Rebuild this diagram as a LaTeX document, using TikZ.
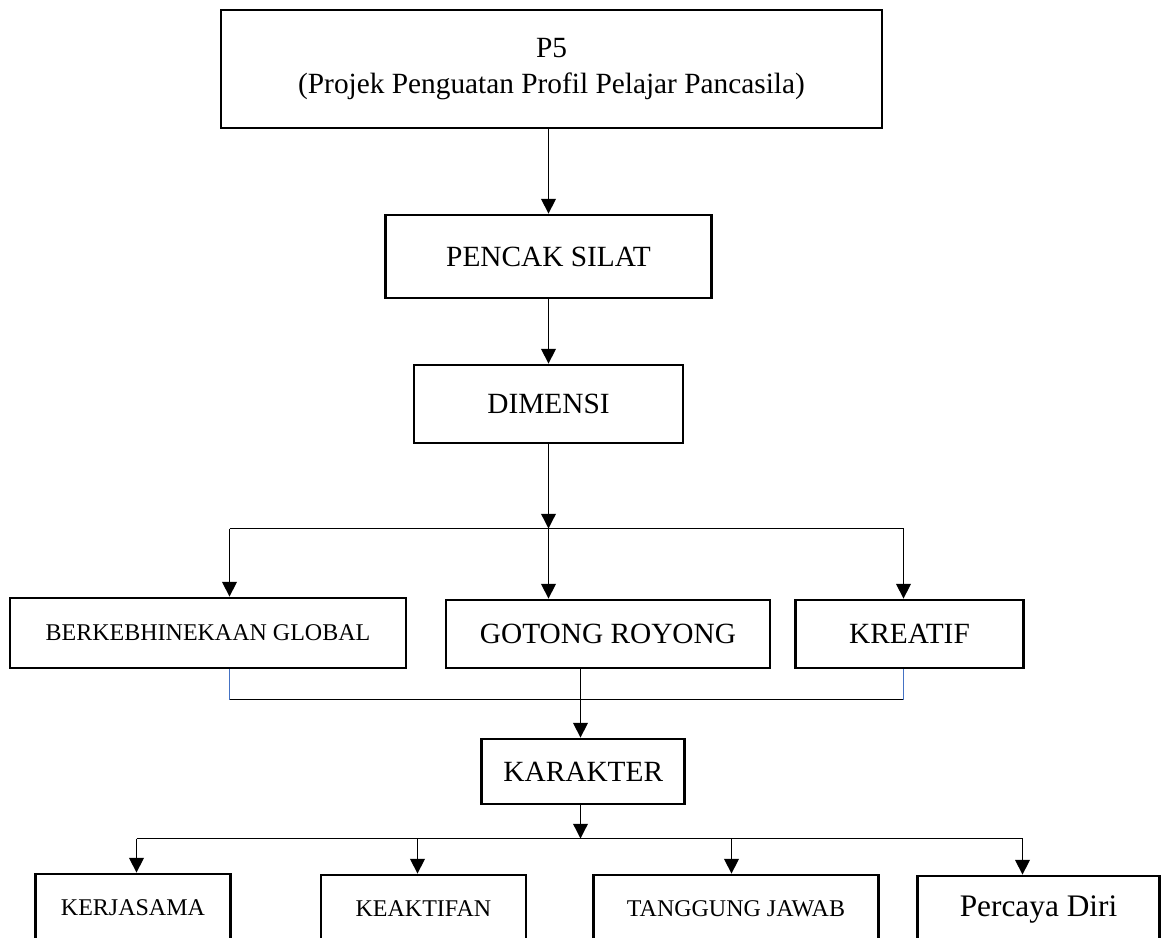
\documentclass[tikz,border=0pt]{standalone}
\usepackage{fontspec}
\setmainfont{Liberation Serif}
\usetikzlibrary{arrows.meta,positioning}
\definecolor{linkblue}{RGB}{68,114,196}
\newcommand{\bigtxt}{\fontsize{22}{26.5}\selectfont}
\newcommand{\smalltxt}{\fontsize{18}{22}\selectfont}
\begin{document}
\begin{tikzpicture}[x=0.75pt,y=-0.75pt,
    box/.style={draw,line width=2.1pt,inner sep=0pt,align=center,font=\bigtxt},
    smallbox/.style={box,font=\smalltxt},
    arr/.style={line width=1pt,-{Triangle[length=11pt,width=11pt]}},
    link/.style={line width=1pt}]
    \path[use as bounding box,clip] (0,0) rectangle (1161,938);
    \node[box,minimum width=661*0.75pt,minimum height=118*0.75pt] (p5) at (551.5,69)
        {P5\\(Projek Penguatan Profil Pelajar Pancasila)};
    \node[box,minimum width=326*0.75pt,minimum height=83*0.75pt] (pencak) at (548.5,256.5) {PENCAK SILAT};
    \node[box,minimum width=269*0.75pt,minimum height=78*0.75pt] (dimensi) at (548.5,404) {DIMENSI};
    \node[smallbox,minimum width=396*0.75pt,minimum height=70*0.75pt] (global) at (208,633) {BERKEBHINEKAAN GLOBAL};
    \node[box,minimum width=324*0.75pt,minimum height=68*0.75pt] (gotong) at (608,634) {GOTONG ROYONG};
    \node[box,minimum width=228*0.75pt,minimum height=68*0.75pt] (kreatif) at (909.5,634) {KREATIF};
    \node[box,minimum width=203*0.75pt,minimum height=65*0.75pt] (karakter) at (583.3,771.5) {KARAKTER};
    \node[smallbox,minimum width=195*0.75pt,minimum height=68*0.75pt] (kerja) at (133,908) {KERJASAMA};
    \node[smallbox,minimum width=205*0.75pt,minimum height=68*0.75pt] (aktif) at (423.4,909) {KEAKTIFAN};
    \node[smallbox,minimum width=285*0.75pt,minimum height=68*0.75pt] (tanggung) at (736,909) {TANGGUNG JAWAB};
    \node[box,minimum width=242*0.75pt,minimum height=68*0.75pt,font=\fontsize{23.5}{26}\selectfont] (diri) at (1038.5,910) {Percaya Diri};

    \coordinate (busa) at (548.5,528.5);
    \coordinate (busal) at (229.5,528.5);
    \coordinate (busar) at (903.5,528.5);
    \coordinate (busbl) at (229.5,699.5);
    \coordinate (busbm) at (580.5,699.5);
    \coordinate (busbr) at (903.5,699.5);
    \coordinate (busc) at (580.5,838.5);

    \draw[arr] (pencak.north |- p5.south) -- (pencak.north);
    \draw[arr] (dimensi.north |- pencak.south) -- (dimensi.north);
    \draw[arr] (dimensi.south) -- (busa);
    \draw[link] (busal) -- (busar);
    \draw[arr] (busal) -- (busal |- global.north);
    \draw[arr] (busa) -- (busa |- gotong.north);
    \draw[arr] (busar) -- (busar |- kreatif.north);

    \draw[link,linkblue] (busbl |- global.south) -- (busbl);
    \draw[link] (busbl) -- (busbr);
    \draw[link,linkblue] (busbr) -- (busbr |- kreatif.south);
    \draw[arr] (busbm |- gotong.south) -- (busbm |- karakter.north);
    \draw[arr] (busc |- karakter.south) -- (busc);

    \draw[link] (136.5,838.5) -- (1022.5,838.5);
    \foreach \x/\n in {136.5/kerja, 417.5/aktif, 731.5/tanggung, 1022.5/diri}
        \draw[arr] (\x,838.5) coordinate (tap) -- (tap |- \n.north);
\end{tikzpicture}
\end{document}
